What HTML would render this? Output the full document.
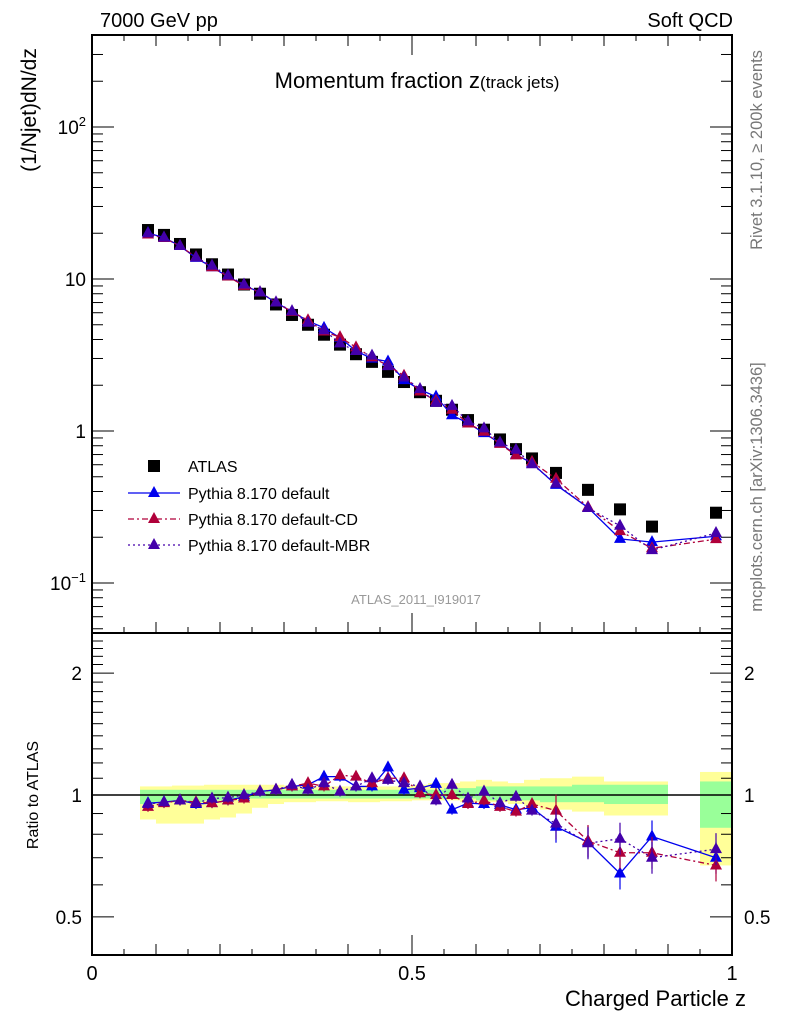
<!DOCTYPE html>
<html><head><meta charset="utf-8"><style>
body{margin:0;background:#fff}
svg{display:block;font-family:"Liberation Sans",sans-serif}
</style></head><body>
<svg id="c" width="786" height="1024" viewBox="0 0 786 1024">
<text x="100" y="27" font-size="20">7000 GeV pp</text>
<text x="733" y="27" font-size="20" text-anchor="end">Soft QCD</text>
<text x="417" y="88" font-size="22" text-anchor="middle">Momentum fraction z<tspan font-size="17">(track jets)</tspan></text>
<text transform="translate(36,110) rotate(-90)" font-size="21" text-anchor="middle">(1/Njet)dN/dz</text>
<text transform="translate(38,795) rotate(-90)" font-size="16" text-anchor="middle">Ratio to ATLAS</text>
<text x="746" y="1006" font-size="22" text-anchor="end">Charged Particle z</text>
<text transform="translate(762,150) rotate(-90)" font-size="16.5" fill="#777" text-anchor="middle">Rivet 3.1.10, ≥ 200k events</text>
<text transform="translate(762,487) rotate(-90)" font-size="16.5" fill="#777" text-anchor="middle">mcplots.cern.ch [arXiv:1306.3436]</text>
<text x="416" y="604" font-size="13" fill="#999" text-anchor="middle">ATLAS_2011_I919017</text>
<g id="g"></g>
</svg>
<script>
const binLo=[0.075,0.1,0.125,0.15,0.175,0.2,0.225,0.25,0.275,0.3,0.325,0.35,0.375,0.4,0.425,0.45,0.475,0.5,0.525,0.55,0.575,0.6,0.625,0.65,0.675,0.7,0.75,0.8,0.85,0.95];
const binHi=[0.1,0.125,0.15,0.175,0.2,0.225,0.25,0.275,0.3,0.325,0.35,0.375,0.4,0.425,0.45,0.475,0.5,0.525,0.55,0.575,0.6,0.625,0.65,0.675,0.7,0.75,0.8,0.85,0.9,1.0];
const atlas=[21,19.5,17,14.5,12.5,10.7,9.2,8,6.8,5.8,5.0,4.3,3.7,3.2,2.85,2.45,2.1,1.8,1.58,1.38,1.18,1.02,0.88,0.76,0.66,0.53,0.41,0.305,0.235,0.29];
const ratioDefault=[0.955,0.96,0.97,0.95,0.955,0.97,0.99,1.02,1.03,1.05,1.06,1.11,1.11,1.05,1.05,1.17,1.03,1.04,1.065,0.92,0.955,0.95,0.945,0.92,0.93,0.835,0.765,0.64,0.79,0.7];
const ratioCD=[0.935,0.955,0.97,0.96,0.955,0.97,0.98,1.02,1.03,1.05,1.07,1.05,1.12,1.11,1.07,1.10,1.10,1.01,1.0,1.0,0.95,0.97,0.935,0.91,0.95,0.915,0.77,0.72,0.72,0.67];
const ratioMBR=[0.95,0.96,0.97,0.955,0.98,0.985,1.0,1.02,1.03,1.06,1.03,1.07,1.02,1.05,1.10,1.09,1.07,1.05,0.97,1.06,0.98,1.02,0.955,0.99,0.915,0.85,0.76,0.78,0.70,0.735];
const yellowUp=[1.05,1.05,1.055,1.055,1.06,1.06,1.06,1.06,1.06,1.055,1.05,1.05,1.05,1.05,1.05,1.05,1.05,1.06,1.07,1.07,1.08,1.09,1.08,1.07,1.09,1.10,1.11,1.08,1.08,1.14];
const yellowLo=[0.87,0.85,0.85,0.85,0.87,0.88,0.90,0.93,0.95,0.96,0.96,0.965,0.965,0.96,0.96,0.965,0.965,0.97,0.97,0.97,0.96,0.96,0.96,0.95,0.94,0.92,0.91,0.89,0.89,0.67];
const greenUp=[1.03,1.03,1.03,1.03,1.03,1.03,1.03,1.03,1.03,1.03,1.03,1.03,1.03,1.03,1.03,1.03,1.03,1.03,1.03,1.04,1.04,1.05,1.05,1.05,1.05,1.05,1.06,1.06,1.06,1.08];
const greenLo=[0.95,0.96,0.96,0.96,0.97,0.97,0.98,0.98,0.98,0.98,0.98,0.98,0.98,0.98,0.98,0.98,0.98,0.98,0.98,0.98,0.98,0.97,0.97,0.97,0.97,0.96,0.96,0.95,0.95,0.83];
const xTicks=[0,0.5,1];
const xTickLabels=["0","0.5","1"];
const yTicks=[0.1,1,10,100];
const ratioTicks=[0.5,1,2];
const ratioTickLabels=["0.5","1","2"];

const NS="http://www.w3.org/2000/svg";
const G=document.getElementById('g');
const X0=92,X1=732,T=35,MB=633,RB=955;
const sx=z=>X0+(X1-X0)*z;
const sy=v=>431-152*Math.log10(v);
const sr=r=>795-405*Math.log10(r);
function mk(t,a,p){const e=document.createElementNS(NS,t);for(const k in a)e.setAttribute(k,a[k]);(p||G).appendChild(e);return e;}

for(let i=0;i<binLo.length;i++){
  let e=mk('rect',{x:sx(binLo[i]),y:sr(yellowUp[i]),width:sx(binHi[i])-sx(binLo[i]),height:sr(yellowLo[i])-sr(yellowUp[i]),fill:'#ffff99'});
  
  
}
for(let i=0;i<binLo.length;i++){
  let e=mk('rect',{x:sx(binLo[i]),y:sr(greenUp[i]),width:sx(binHi[i])-sx(binLo[i]),height:sr(greenLo[i])-sr(greenUp[i]),fill:'#99ff99'});
  
  
}
mk('line',{x1:X0,x2:X1,y1:sr(1),y2:sr(1),stroke:'#000','stroke-width':1.5});

mk('rect',{x:X0,y:T,width:X1-X0,height:MB-T,fill:'none',stroke:'#000','stroke-width':2});
mk('rect',{x:X0,y:MB,width:X1-X0,height:RB-MB,fill:'none',stroke:'#000','stroke-width':2});

for(let d=-2;d<=2;d++){for(let m=1;m<10;m++){const v=m*Math.pow(10,d);const y=sy(v);if(y<T||y>MB)continue;const L=m==1?22:11;
  mk('line',{x1:X0,x2:X0+L,y1:y,y2:y,stroke:'#000'});mk('line',{x1:X1,x2:X1-L,y1:y,y2:y,stroke:'#000'});}}
yTicks.forEach((v,i)=>{const y=sy(v)+7;let t=mk('text',{x:X0-6,y:y,'font-size':19,'text-anchor':'end'});
  if(v==0.1){t.innerHTML='10<tspan dy="-8" font-size="13">−1</tspan>';}
  else if(v==100){t.innerHTML='10<tspan dy="-8" font-size="13">2</tspan>';}
  else t.textContent=String(v);
  
  
});
for(let r=0.4;r<=2.5;r+=0.1){const y=sr(r);if(y<MB||y>RB)continue;const big=Math.abs(r-0.5)<1e-6||Math.abs(r-1)<1e-6||Math.abs(r-2)<1e-6;const L=big?22:11;
  mk('line',{x1:X0,x2:X0+L,y1:y,y2:y,stroke:'#000'});mk('line',{x1:X1,x2:X1-L,y1:y,y2:y,stroke:'#000'});}
ratioTicks.forEach((r,i)=>{
  let t=mk('text',{x:X0-10,y:sr(r)+7,'font-size':19,'text-anchor':'end'});t.textContent=ratioTickLabels[i];
  
  
  let t2=mk('text',{x:X1+12,y:sr(r)+7,'font-size':19});t2.textContent=ratioTickLabels[i];
  
  
});
for(let k=0;k<=20;k++){const z=k*0.05;const x=sx(z);const L=k%10==0?20:(k%2==0?11:6);
  mk('line',{x1:x,x2:x,y1:RB,y2:RB-L,stroke:'#000'});mk('line',{x1:x,x2:x,y1:MB,y2:MB-L,stroke:'#000'});mk('line',{x1:x,x2:x,y1:T,y2:T+L,stroke:'#000'});}
xTicks.forEach((z,i)=>{let t=mk('text',{x:sx(z),y:980,'font-size':20,'text-anchor':'middle'});t.textContent=xTickLabels[i];
  
  });

const ctr=binLo.map((l,i)=>(l+binHi[i])/2);
function tri(x,y,c,p){return mk('path',{d:`M${x},${y-7}L${x+6},${y+4}L${x-6},${y+4}Z`,fill:c},p);}
const series=[
 {r:ratioDefault,c:'#0000ee',dash:'',name:'default'},
 {r:ratioCD,c:'#b0003a',dash:'6,3,2,3',name:'default-cd'},
 {r:ratioMBR,c:'#4400aa',dash:'2,3',name:'default-mbr'}];
atlas.forEach((v,i)=>{let e=mk('rect',{x:sx(ctr[i])-6,y:sy(v)-6,width:12,height:12,fill:'#000'});
  
  });
series.forEach(s=>{
  const mp=ctr.map((z,i)=>sx(z)+','+sy(atlas[i]*s.r[i])).join(' ');
  let l=mk('polyline',{points:mp,fill:'none',stroke:s.c,'stroke-width':1.3,'stroke-dasharray':s.dash});
  
  
  const rp=ctr.map((z,i)=>sx(z)+','+sr(s.r[i])).join(' ');
  let l2=mk('polyline',{points:rp,fill:'none',stroke:s.c,'stroke-width':1.3,'stroke-dasharray':s.dash});
  
  
  ctr.forEach((z,i)=>{
    let a=tri(sx(z),sy(atlas[i]*s.r[i]),s.c);
    
    
    let b=tri(sx(z),sr(s.r[i]),s.c);
    
    
    const x=sx(z),y=sr(s.r[i]),e=z>0.7?16:5;
    mk('line',{x1:x,x2:x,y1:y-e,y2:y+e,stroke:s.c,'stroke-width':1.2});
  });
});
const lg=mk('g',{});


mk('rect',{x:148,y:460,width:12,height:12,fill:'#000'},lg);
let lt=mk('text',{x:188,y:472,'font-size':16},lg);lt.textContent='ATLAS';
const names=['Pythia 8.170 default','Pythia 8.170 default-CD','Pythia 8.170 default-MBR'];
series.forEach((s,i)=>{const y=493+i*26;
  mk('line',{x1:128,x2:180,y1:y,y2:y,stroke:s.c,'stroke-width':1.3,'stroke-dasharray':s.dash},lg);
  tri(154,y,s.c,lg);
  let t=mk('text',{x:188,y:y+6,'font-size':16},lg);t.textContent=names[i];
  
  
});
</script>
</body></html>
